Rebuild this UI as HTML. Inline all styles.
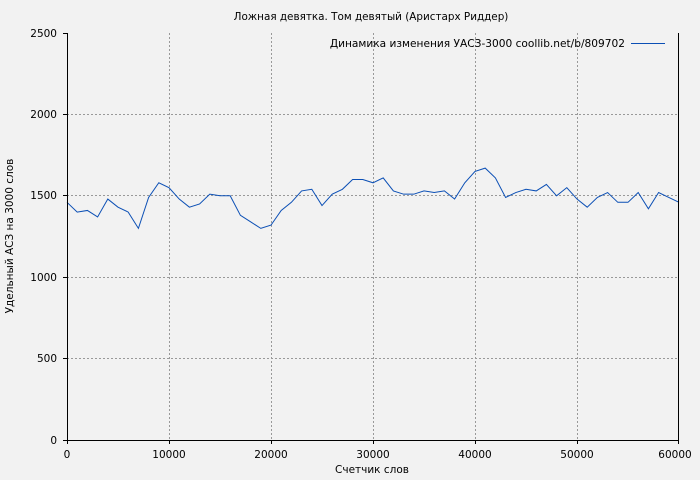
<!DOCTYPE html>
<html><head><meta charset="utf-8"><style>
body{margin:0;background:#f2f2f2}
svg{display:block;font-family:"DejaVu Sans","Liberation Sans",sans-serif}
</style></head><body>
<svg width="700" height="480" xmlns="http://www.w3.org/2000/svg">
<rect width="700" height="480" fill="#f2f2f2"/>
<g stroke="#999" stroke-dasharray="2,2" stroke-width="1">
<line x1="169.5" y1="33" x2="169.5" y2="440"/><line x1="271.5" y1="33" x2="271.5" y2="440"/>
<line x1="373.5" y1="33" x2="373.5" y2="440"/><line x1="475.5" y1="33" x2="475.5" y2="440"/>
<line x1="577.5" y1="33" x2="577.5" y2="440"/>
<line x1="67" y1="114.5" x2="679" y2="114.5"/><line x1="67" y1="195.5" x2="679" y2="195.5"/>
<line x1="67" y1="277.5" x2="679" y2="277.5"/><line x1="67" y1="358.5" x2="679" y2="358.5"/>
</g>
<g transform="translate(67,440) scale(0.0102,-0.1628)">
<polyline fill="none" stroke="#0b4fb5" stroke-width="1" vector-effect="non-scaling-stroke" points="0,1460 1000,1400 2000,1410 3000,1370 4000,1480 5000,1430 6000,1400 7000,1300 8000,1490 9000,1580 10000,1550 11000,1480 12000,1430 13000,1450 14000,1510 15000,1500 16000,1500 17000,1380 18000,1340 19000,1300 20000,1320 21000,1410 22000,1460 23000,1530 24000,1540 25000,1440 26000,1510 27000,1540 28000,1600 29000,1600 30000,1580 31000,1610 32000,1530 33000,1510 34000,1510 35000,1530 36000,1520 37000,1530 38000,1480 39000,1580 40000,1650 41000,1670 42000,1610 43000,1490 44000,1520 45000,1540 46000,1530 47000,1570 48000,1500 49000,1550 50000,1480 51000,1430 52000,1490 53000,1520 54000,1460 55000,1460 56000,1520 57000,1420 58000,1520 59000,1490 60000,1460"/>
</g>
<g stroke="#000" stroke-width="1">
<line x1="67.5" y1="33" x2="67.5" y2="440"/><line x1="678.5" y1="33" x2="678.5" y2="440"/>
<line x1="67" y1="440.5" x2="679" y2="440.5"/>
<line x1="63" y1="33.5" x2="67" y2="33.5"/><line x1="63" y1="114.5" x2="67" y2="114.5"/>
<line x1="63" y1="195.5" x2="67" y2="195.5"/><line x1="63" y1="277.5" x2="67" y2="277.5"/>
<line x1="63" y1="358.5" x2="67" y2="358.5"/><line x1="63" y1="440.5" x2="67" y2="440.5"/>
<line x1="67.5" y1="440" x2="67.5" y2="444"/><line x1="169.5" y1="440" x2="169.5" y2="444"/>
<line x1="271.5" y1="440" x2="271.5" y2="444"/><line x1="373.5" y1="440" x2="373.5" y2="444"/>
<line x1="475.5" y1="440" x2="475.5" y2="444"/><line x1="577.5" y1="440" x2="577.5" y2="444"/>
<line x1="678.5" y1="440" x2="678.5" y2="444"/>
</g>
<g font-size="10.5" fill="#000" text-anchor="end">
<text x="57" y="37">2500</text><text x="57" y="118">2000</text><text x="57" y="199">1500</text>
<text x="57" y="281">1000</text><text x="57" y="362">500</text><text x="57" y="444">0</text>
</g>
<g font-size="10.5" fill="#000" text-anchor="middle">
<text x="67" y="458">0</text><text x="169" y="458">10000</text><text x="271" y="458">20000</text>
<text x="373" y="458">30000</text><text x="475" y="458">40000</text><text x="577" y="458">50000</text>
<text x="675" y="458">60000</text>
<text x="372" y="473">Счетчик слов</text>
<text x="371" y="20" font-size="10.4">Ложная девятка. Том девятый (Аристарх Риддер)</text>
<text transform="translate(13,236) rotate(-90)">Удельный АСЗ на 3000 слов</text>
</g>
<text x="625" y="47" font-size="10.6" text-anchor="end">Динамика изменения УАСЗ-3000 coollib.net/b/809702</text>
<line x1="631" y1="43.5" x2="665" y2="43.5" stroke="#0b4fb5"/>
</svg>
</body></html>
